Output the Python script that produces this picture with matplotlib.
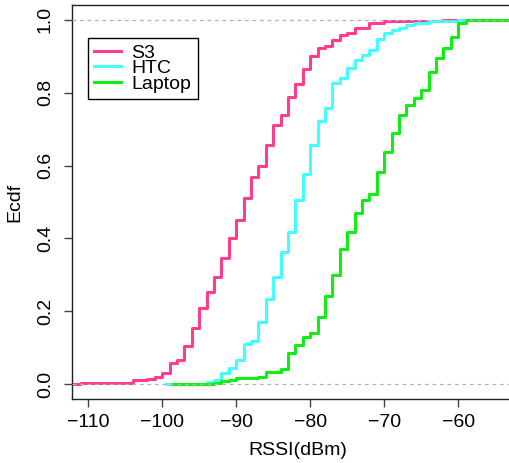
import matplotlib
matplotlib.use("Agg")
import matplotlib.pyplot as plt

plt.rcParams['font.family'] = ['Liberation Sans', 'DejaVu Sans']

# ecdf step positions (RSSI, dBm) and levels after each jump
s3_x = [-111, -104, -102, -101, -100, -99, -98, -97, -96, -95, -94, -93, -92, -91, -90,
        -89, -88, -87, -86, -85, -84, -83, -82, -81, -80, -79, -78, -77, -76, -75,
        -74, -72, -70, -66, -62]
s3_y = [0.005, 0.012, 0.016, 0.021, 0.030, 0.059, 0.066, 0.105, 0.154, 0.209, 0.254,
        0.295, 0.347, 0.400, 0.451, 0.512, 0.568, 0.598, 0.655, 0.710, 0.738, 0.788,
        0.823, 0.864, 0.900, 0.922, 0.928, 0.944, 0.957, 0.962, 0.977, 0.990, 0.995,
        0.997, 1.0]

htc_x = [-94, -93, -92, -91, -90, -89, -88, -87, -86, -85, -84, -83, -82, -81, -80,
         -79, -78, -77, -76, -75, -74, -73, -72, -71, -70, -69, -68, -67, -66, -64, -60]
htc_y = [0.006, 0.013, 0.031, 0.046, 0.066, 0.110, 0.120, 0.171, 0.234, 0.295, 0.364,
         0.418, 0.505, 0.577, 0.655, 0.721, 0.759, 0.825, 0.841, 0.867, 0.889, 0.904,
         0.917, 0.947, 0.964, 0.971, 0.977, 0.984, 0.991, 0.996, 1.0]

laptop_x = [-93, -92, -91, -90, -87, -86, -84, -83, -82, -81, -80, -79, -78, -77, -76,
            -75, -74, -73, -72, -71, -70, -69, -68, -67, -66, -65, -64, -63, -62, -61,
            -60, -59]
laptop_y = [0.005, 0.008, 0.012, 0.017, 0.021, 0.034, 0.042, 0.085, 0.109, 0.130, 0.141,
            0.185, 0.241, 0.300, 0.371, 0.417, 0.471, 0.505, 0.521, 0.582, 0.638, 0.688,
            0.738, 0.766, 0.786, 0.806, 0.855, 0.896, 0.921, 0.951, 0.992, 1.0]

series = [
    ('S3', s3_x, s3_y, -113, '#ff3d8f'),
    ('HTC', htc_x, htc_y, -99.5, '#40ffff'),
    ('Laptop', laptop_x, laptop_y, -98.5, '#11ee11'),
]
x_ticks = [-110, -100, -90, -80, -70, -60]
y_ticks = [0.0, 0.2, 0.4, 0.6, 0.8, 1.0]

W, H = 509, 463
fig = plt.figure(figsize=(W / 100, H / 100), dpi=100)
# axes box: left edge at x=72px, right edge cut off by the image
ax = fig.add_axes([72 / W, (H - 399) / H, (524 - 72) / W, 394 / H])

for name, xs, ys, start, col in series:
    x = [start] + xs + [-45]
    y = [0] + ys + [ys[-1]]
    ax.step(x, y, where='post', color=col, lw=2.2, label=name, zorder=2)

for h in (0, 1):
    ax.axhline(h, color='#b3b3b3', lw=0.9, ls=(0, (3, 3)), zorder=3)

ax.set_xlim(-112.2, -112.2 + 452 / 7.4)
ax.set_ylim(-0.04, 1.04)
ax.set_xticks(x_ticks)
ax.set_xticklabels([f'\u2212{abs(v)}' for v in x_ticks])
ax.set_yticks(y_ticks)
ax.set_yticklabels([f'{v:.1f}' for v in y_ticks], rotation=90, va='center')
ax.tick_params(labelsize=14, length=6, width=1, color='#444444')
ax.tick_params(axis='x', pad=5)
ax.tick_params(axis='y', pad=7)
for s in ax.spines.values():
    s.set_linewidth(1)
    s.set_color('#222222')

ax.set_xlabel('RSSI(dBm)', fontsize=14, labelpad=8)
ax.set_ylabel('Ecdf', fontsize=14, labelpad=10)

leg = ax.legend(loc='upper left', bbox_to_anchor=(88 / W, (H - 38) / H),
                bbox_transform=fig.transFigure, fontsize=14, frameon=True,
                fancybox=False, edgecolor='black', framealpha=1,
                handlelength=1.35, handletextpad=0.55, labelspacing=-0.12,
                borderpad=0.33, borderaxespad=0)
leg.get_frame().set_linewidth(1)

fig.savefig('out.png', dpi=100)
